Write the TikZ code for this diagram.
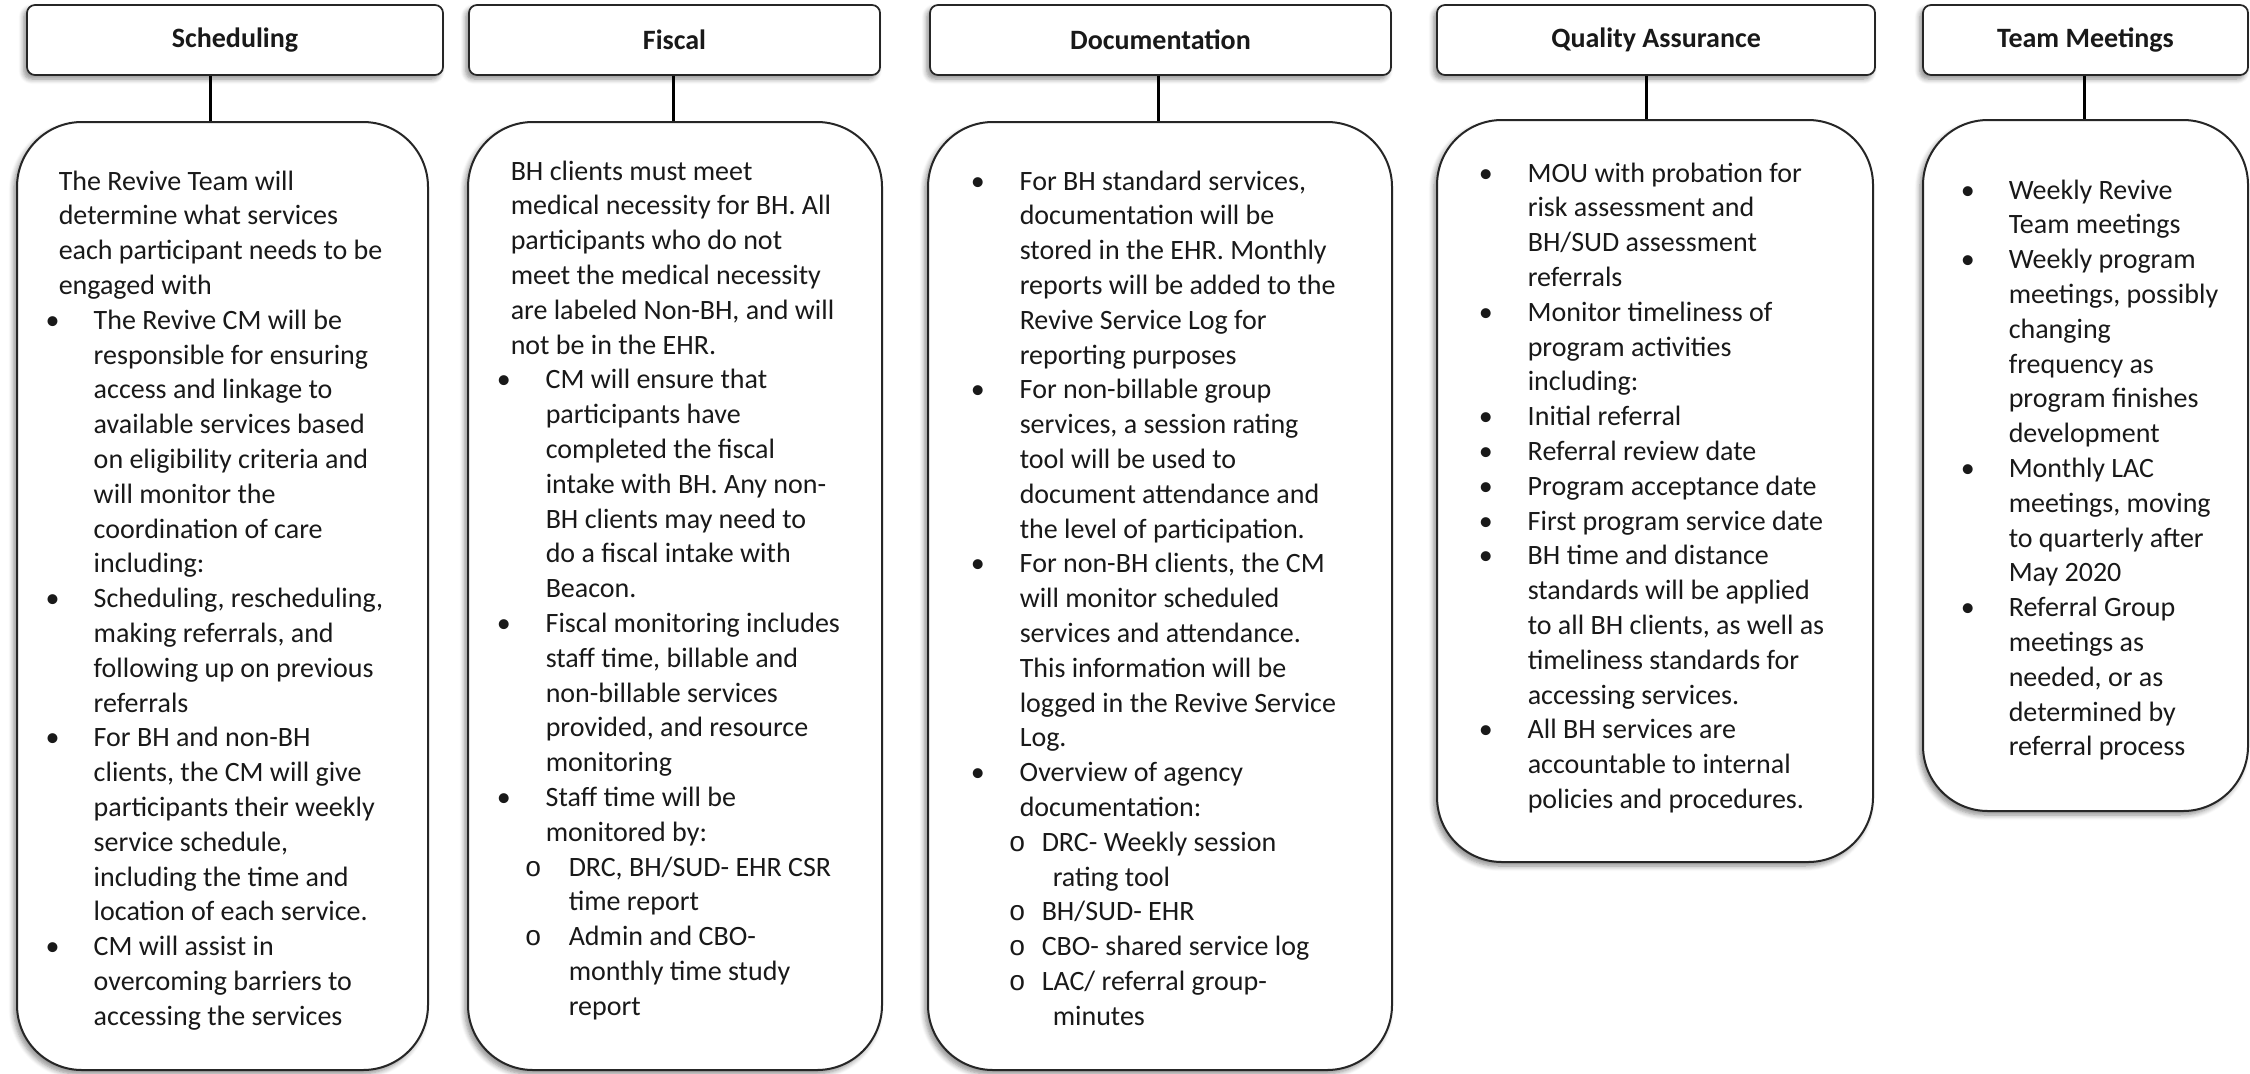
\documentclass[tikz,border=0pt]{standalone}
\usepackage{fontspec}
\setmainfont{Carlito}
\newfontfamily\courfont{Liberation Mono}
\usetikzlibrary{shadows.blur}

% one drawing unit = 0.4pt
\newdimen\pxu \pxu=0.4pt
% a plain line, a bulleted line and a sub-bulleted line, with offsets in drawing units
\newcommand\txtln[2]{\hbox to 0pt{\hskip#1\pxu #2\hss}}
\newcommand\bulln[3]{\hbox to 0pt{\rlap{\hskip#1\pxu •}\hskip#2\pxu #3\hss}}
\newcommand\subln[3]{\hbox to 0pt{\rlap{\hskip#1\pxu{\courfont o}}\hskip#2\pxu #3\hss}}
\newcommand\colbody[2]{\parbox[t]{#1}{\fontsize{11.2pt}{13.92pt}\selectfont #2}}

\tikzset{
  softshadow/.style={blur shadow={shadow xshift=-1.3pt, shadow yshift=-1.6pt,
      shadow blur radius=2pt, shadow blur steps=6, shadow opacity=45}},
  head/.style={draw=black!85, line width=0.7pt, rounded corners=3.2pt, fill=white,
      softshadow, inner sep=0pt, minimum height=70*0.4pt,
      font=\fontsize{11.2pt}{13pt}\selectfont\bfseries, text=black!90},
  panel/.style={draw=black!85, line width=0.8pt, rounded corners=26pt, fill=white,
      softshadow, inner sep=0pt},
  textcol/.style={anchor=base west, inner sep=0pt, text=black!90},
  link/.style={draw=black, line width=1.2pt}
}

\begin{document}
\begin{tikzpicture}[x=0.4pt, y=-0.4pt]
\useasboundingbox (0,0) rectangle (2250,1073);

% ---------- headers ----------
\node[head, minimum width=416*0.4pt] (h1) at (235,40) {Scheduling};
\node[head, minimum width=411*0.4pt] (h2) at (674.5,40) {Fiscal};
\node[head, minimum width=461*0.4pt] (h3) at (1160.5,40) {Documentation};
\node[head, minimum width=438*0.4pt] (h4) at (1656,40) {Quality Assurance};
\node[head, minimum width=325*0.4pt] (h5) at (2085.5,40) {Team Meetings};

% ---------- panels ----------
\node[panel, minimum width=411*0.4pt, minimum height=948*0.4pt] (b1) at (222.5,596) {};
\node[panel, minimum width=414*0.4pt, minimum height=948*0.4pt] (b2) at (675,596) {};
\node[panel, minimum width=464*0.4pt, minimum height=948*0.4pt] (b3) at (1160,596) {};
\node[panel, minimum width=436*0.4pt, minimum height=742*0.4pt] (b4) at (1655,491) {};
\node[panel, minimum width=325*0.4pt, minimum height=691*0.4pt] (b5) at (2085.5,465.5) {};

% ---------- connectors ----------
\coordinate (k1) at (210,0);
\coordinate (k2) at (673,0);
\coordinate (k3) at (1158,0);
\coordinate (k4) at (1646,0);
\coordinate (k5) at (2084,0);
\draw[link] (h1.south -| k1) -- (b1.north -| k1);
\draw[link] (h2.south -| k2) -- (b2.north -| k2);
\draw[link] (h3.south -| k3) -- (b3.north -| k3);
\draw[link] (h4.south -| k4) -- (b4.north -| k4);
\draw[link] (h5.south -| k5) -- (b5.north -| k5);

% ---------- Scheduling ----------
\node[textcol] (t1) at (17,190) {\colbody{164pt}{%
\txtln{40}{The Revive Team will}
\txtln{40}{determine what services}
\txtln{40}{each participant needs to be}
\txtln{40}{engaged with}
\bulln{27}{75}{The Revive CM will be}
\txtln{75}{responsible for ensuring}
\txtln{75}{access and linkage to}
\txtln{75}{available services based}
\txtln{75}{on eligibility criteria and}
\txtln{75}{will monitor the}
\txtln{75}{coordination of care}
\txtln{75}{including:}
\bulln{27}{75}{Scheduling, rescheduling,}
\txtln{75}{making referrals, and}
\txtln{75}{following up on previous}
\txtln{75}{referrals}
\bulln{27}{75}{For BH and non-BH}
\txtln{75}{clients, the CM will give}
\txtln{75}{participants their weekly}
\txtln{75}{service schedule,}
\txtln{75}{including the time and}
\txtln{75}{location of each service.}
\bulln{27}{75}{CM will assist in}
\txtln{75}{overcoming barriers to}
\txtln{75}{accessing the services}}};

% ---------- Fiscal ----------
\node[textcol] (t2) at (468,180) {\colbody{165pt}{%
\txtln{41}{BH clients must meet}
\txtln{41}{medical necessity for BH. All}
\txtln{41}{participants who do not}
\txtln{41}{meet the medical necessity}
\txtln{41}{are labeled Non-BH, and will}
\txtln{41}{not be in the EHR.}
\bulln{27}{76}{CM will ensure that}
\txtln{76}{participants have}
\txtln{76}{completed the fiscal}
\txtln{76}{intake with BH. Any non-}
\txtln{76}{BH clients may need to}
\txtln{76}{do a fiscal intake with}
\txtln{76}{Beacon.}
\bulln{27}{76}{Fiscal monitoring includes}
\txtln{76}{staff time, billable and}
\txtln{76}{non-billable services}
\txtln{76}{provided, and resource}
\txtln{76}{monitoring}
\bulln{27}{76}{Staff time will be}
\txtln{76}{monitored by:}
\subln{55}{99}{DRC, BH/SUD- EHR CSR}
\txtln{99}{time report}
\subln{55}{99}{Admin and CBO-}
\txtln{99}{monthly time study}
\txtln{99}{report}}};

% ---------- Documentation ----------
\node[textcol] (t3) at (928,190) {\colbody{185pt}{%
\bulln{41}{90}{For BH standard services,}
\txtln{90}{documentation will be}
\txtln{90}{stored in the EHR. Monthly}
\txtln{90}{reports will be added to the}
\txtln{90}{Revive Service Log for}
\txtln{90}{reporting purposes}
\bulln{41}{90}{For non-billable group}
\txtln{90}{services, a session rating}
\txtln{90}{tool will be used to}
\txtln{90}{document attendance and}
\txtln{90}{the level of participation.}
\bulln{41}{90}{For non-BH clients, the CM}
\txtln{90}{will monitor scheduled}
\txtln{90}{services and attendance.}
\txtln{90}{This information will be}
\txtln{90}{logged in the Revive Service}
\txtln{90}{Log.}
\bulln{41}{90}{Overview of agency}
\txtln{90}{documentation:}
\subln{79}{112}{DRC- Weekly session}
\txtln{123}{rating tool}
\subln{79}{112}{BH/SUD- EHR}
\subln{79}{112}{CBO- shared service log}
\subln{79}{112}{LAC/ referral group-}
\txtln{123}{minutes}}};

% ---------- Quality Assurance ----------
\node[textcol] (t4) at (1437,182) {\colbody{174pt}{%
\bulln{40}{89}{MOU with probation for}
\txtln{89}{risk assessment and}
\txtln{89}{BH/SUD assessment}
\txtln{89}{referrals}
\bulln{40}{89}{Monitor timeliness of}
\txtln{89}{program activities}
\txtln{89}{including:}
\bulln{40}{89}{Initial referral}
\bulln{40}{89}{Referral review date}
\bulln{40}{89}{Program acceptance date}
\bulln{40}{89}{First program service date}
\bulln{40}{89}{BH time and distance}
\txtln{89}{standards will be applied}
\txtln{89}{to all BH clients, as well as}
\txtln{89}{timeliness standards for}
\txtln{89}{accessing services.}
\bulln{40}{89}{All BH services are}
\txtln{89}{accountable to internal}
\txtln{89}{policies and procedures.}}};

% ---------- Team Meetings ----------
\node[textcol] (t5) at (1923,199) {\colbody{130pt}{%
\bulln{36}{84}{Weekly Revive}
\txtln{84}{Team meetings}
\bulln{36}{84}{Weekly program}
\txtln{84}{meetings, possibly}
\txtln{84}{changing}
\txtln{84}{frequency as}
\txtln{84}{program finishes}
\txtln{84}{development}
\bulln{36}{84}{Monthly LAC}
\txtln{84}{meetings, moving}
\txtln{84}{to quarterly after}
\txtln{84}{May 2020}
\bulln{36}{84}{Referral Group}
\txtln{84}{meetings as}
\txtln{84}{needed, or as}
\txtln{84}{determined by}
\txtln{84}{referral process}}};
\end{tikzpicture}
\end{document}
